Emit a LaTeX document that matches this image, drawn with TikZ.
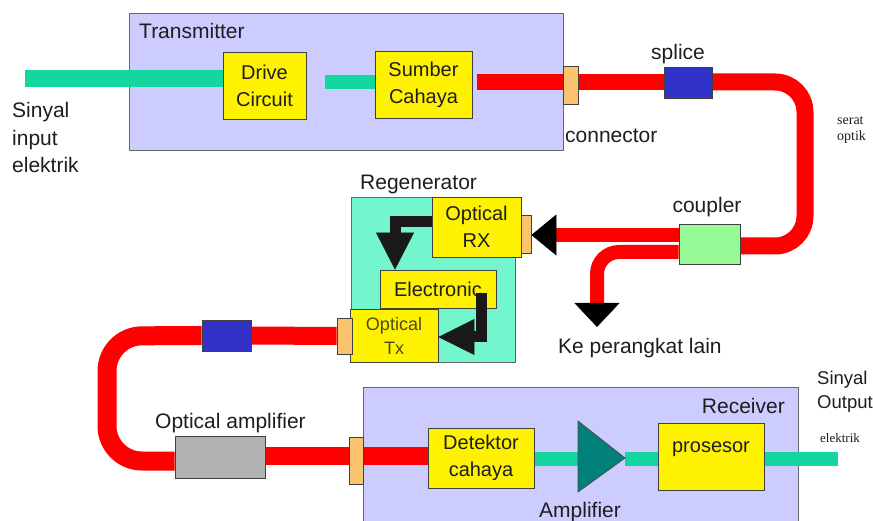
\documentclass[tikz,border=0pt]{standalone}
\usepackage{fontspec}
\setmainfont{Liberation Sans}
\newfontfamily\serifsmall{Liberation Serif}
\usetikzlibrary{arrows.meta,calc}
\pgfdeclarelayer{back}
\pgfdeclarelayer{mid}
\pgfsetlayers{back,mid,main}
\definecolor{cLav}{RGB}{204,204,255}
\definecolor{cEbar}{RGB}{20,215,160}
\definecolor{cReg}{RGB}{115,245,205}
\definecolor{cCpl}{RGB}{150,250,150}
\definecolor{cOrn}{RGB}{250,195,110}
\definecolor{cSpl}{RGB}{50,50,200}
\definecolor{cFib}{RGB}{255,0,0}
\definecolor{cGry}{RGB}{178,178,178}
\definecolor{cAmp}{RGB}{0,128,120}
\definecolor{cTxt}{RGB}{30,30,30}
\definecolor{cOlv}{RGB}{75,75,25}
\newcommand\fLab{\fontsize{21}{27.5}\selectfont}
\newcommand\fOut{\fontsize{18.5}{23.5}\selectfont}
\newcommand\fBox{\fontsize{20}{27}\selectfont}
\newcommand\fTxs{\fontsize{18}{24}\selectfont}
\newcommand\fSer{\serifsmall\fontsize{14}{16}\selectfont}
\newcommand\fSerb{\serifsmall\fontsize{13}{16}\selectfont}
\begin{document}
\begin{tikzpicture}[x=1pt,y=-1pt,
  every node/.style={text=cTxt},
  cont/.style={draw=black!60, line width=0.8pt, inner sep=0pt},
  blk/.style={draw=black!75, line width=0.8pt, fill=yellow, inner sep=0pt, align=center, font=\fBox},
  part/.style={draw=black!75, line width=0.8pt, inner sep=0pt},
  lbl/.style={inner sep=0pt, font=\fLab},
  fiber/.style={draw=cFib, line width=#1},
  fiber/.default=17,
  ebar/.style={draw=cEbar, line width=#1},
  ebar/.default=14,
  barrow/.style={draw=black!90, line width=11, line join=miter}
]
\useasboundingbox (0,0) rectangle (873,521);

% containers
\begin{pgfonlayer}{back}
\fill[white] (0,0) rectangle (873,521);
\node[cont, fill=cLav, minimum width=434, minimum height=137] (tx) at (346,81.5) {};
\node[cont, fill=cReg, minimum width=164, minimum height=165] (regen) at (433,279.5) {};
\node[cont, fill=cLav, minimum width=435, minimum height=160] (rcv) at (580.5,467) {};
\end{pgfonlayer}

% blocks
\node[blk, minimum width=83, minimum height=67] (drive) at (264.5,85.5) {Drive\\Circuit};
\node[blk, minimum width=97, minimum height=67] (sumber) at (423.5,84.5) {Sumber\\Cahaya};
\node[part, fill=cOrn, minimum width=15, minimum height=38] (conn1) at (570.5,85) {};
\node[part, fill=cSpl, minimum width=48, minimum height=31] (splice1) at (688,82.5) {};
\node[part, fill=cCpl, minimum width=61, minimum height=40] (coupler) at (709.5,244) {};
\node[blk, minimum width=89, minimum height=60] (rx) at (476.5,227) {Optical\\RX};
\node[part, fill=cOrn, minimum width=10, minimum height=38] (conn2) at (526,234) {};
\node[blk, minimum width=116, minimum height=38] (elec) at (438,289) {Electronic};
\node[blk, minimum width=88, minimum height=53, font=\fTxs, text=cOlv] (otx) at (394,335.5) {Optical\\Tx};
\node[part, fill=cOrn, minimum width=15, minimum height=36] (conn3) at (344.5,336) {};
\node[part, fill=cSpl, minimum width=49, minimum height=31] (splice2) at (226.5,335.5) {};
\node[part, fill=cGry, minimum width=90, minimum height=42] (oamp) at (220,457) {};
\node[part, fill=cOrn, minimum width=14, minimum height=47] (conn4) at (356,460.5) {};
\node[blk, minimum width=106, minimum height=60] (det) at (481,458) {Detektor\\cahaya};
\node[blk, minimum width=106, minimum height=67, text height=15pt, text depth=24pt] (pros) at (711,456.5) {prosesor};
\draw[draw=black!70, line width=0.8pt, fill=cAmp] (578,421) -- (625,458) -- (578,492) -- cycle;
\coordinate (ampin) at (578,459);
\coordinate (ampout) at (625,459);

% coordinates
\coordinate (inL) at (25,78.5);
\coordinate (d1) at (325,82);
\coordinate (s1) at (477,82);
\coordinate (c1) at (805,82);
\coordinate (c2) at (805,246);
\coordinate (k1) at (679,235);
\coordinate (b1) at (597,252);
\coordinate (b2) at (597,327);
\coordinate (l1) at (107,336);
\coordinate (l2) at (107,461);
\coordinate (a1) at (395,222);
\coordinate (e1) at (481,293);
\coordinate (e2) at (481,337);
\coordinate (outR) at (838,459);

% bars and fibers
\begin{pgfonlayer}{mid}
\draw[ebar=17] (inL) -- (inL -| drive.west);
\draw[ebar] (d1) -- (d1 -| sumber.west);
\draw[fiber=16] (s1) -- (s1 -| conn1.west);
\draw[fiber=16] (conn1.east |- s1) -- (s1 -| splice1.west);
\draw[fiber=17, rounded corners=30] (splice1.east |- s1) -- (c1) -- (c2) -- (c2 -| coupler.east);
\draw[fiber=14, -{Triangle[length=25pt,width=41pt,color=black,line width=0.5pt]}] (k1) -- (k1 -| conn2.east);
\draw[fiber=14, rounded corners=22, -{Triangle[length=24pt,width=45pt,color=black,line width=0.5pt]}] (coupler.west |- b1) -- (b1) -- (b2);
\draw[fiber=18] (conn3.west |- 0,336) -- (splice2.east);
\draw[fiber=19, rounded corners=35] (splice2.west) -- (l1) -- (l2) -- (l2 -| oamp.west);
\draw[fiber=18] (oamp.east |- 0,456) -- (conn4.west |- 0,456);
\draw[fiber=18] (conn4.east |- 0,456) -- (det.west |- 0,456);
\draw[ebar] (det.east |- ampin) -- (ampin);
\draw[ebar] (ampout) -- (pros.west |- ampout);
\draw[ebar] (pros.east |- outR) -- (outR);
\end{pgfonlayer}

% regenerator internal arrows
\draw[barrow, -{Triangle[length=37pt,width=38pt,line width=0.5pt]}] (rx.west |- a1) -- (a1) -- (a1 |- elec.north);
\draw[barrow, -{Triangle[length=36pt,width=36pt,line width=0.5pt]}] (e1) -- (e2) -- (e2 -| otx.east);

% labels
\node[lbl, anchor=base west] (tTx) at (139,39) {Transmitter};
\node[lbl, anchor=north west, align=left] (tIn) at (12,102.5) {Sinyal\\input\\elektrik};
\node[lbl, anchor=base] (tSpl) at (678,60) {splice};
\node[lbl, anchor=base west] (tCon) at (565,143) {connector};
\node[inner sep=0pt, anchor=base west, font=\fSer] (tSer) at (837,125) {serat};
\node[inner sep=0pt, anchor=base west, font=\fSer] (tOpt) at (837,141) {optik};
\node[lbl, anchor=base west] (tReg) at (360,190) {Regenerator};
\node[lbl, anchor=base] (tCpl) at (707,213) {coupler};
\node[lbl, anchor=base west] (tKe) at (558,354) {Ke perangkat lain};
\node[lbl, anchor=base west] (tOA) at (155,428) {Optical amplifier};
\node[lbl, anchor=base east] (tRcv) at (785,413) {Receiver};
\node[lbl, anchor=north west, align=left, font=\fOut] (tOut) at (817,371) {Sinyal\\Output};
\node[inner sep=0pt, anchor=base west, font=\fSerb] (tEl) at (820,442) {elektrik};
\node[lbl, anchor=base] (tAmp) at (580,517) {Amplifier};
\end{tikzpicture}
\end{document}
